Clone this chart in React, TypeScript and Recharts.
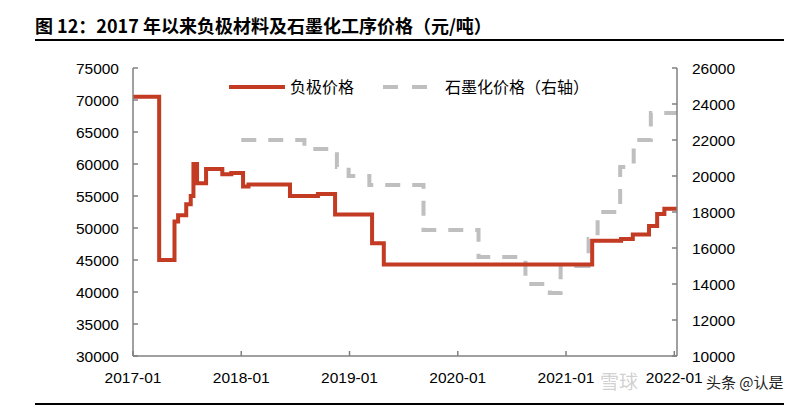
import React from "react";
import { ComposedChart, Line, XAxis, YAxis } from "recharts";

// months counted from 2017-01
const xTicks = [0, 12, 24, 36, 48, 60];
const xTickLabels = ["2017-01", "2018-01", "2019-01", "2020-01", "2021-01", "2022-01"];
const leftTicks = [30000, 35000, 40000, 45000, 50000, 55000, 60000, 65000, 70000, 75000];
const rightTicks = [10000, 12000, 14000, 16000, 18000, 20000, 22000, 24000, 26000];

// 负极价格 (left axis)
const anodeMonths = [0, 2.9, 4.6, 5.0, 5.9, 6.4, 6.7, 7.1, 8.1, 9.9, 10.9, 12.2, 12.8, 17.4, 20.5, 22.4, 26.5, 27.8, 50.9, 54.1, 55.4, 57.2, 58.1, 58.9, 60.3];
const anodePrices = [70500, 45000, 51000, 52000, 53700, 55000, 60000, 57000, 59200, 58400, 58600, 56500, 56800, 55000, 55300, 52100, 47600, 44300, 48000, 48300, 49000, 50300, 52200, 53000, 53000];

// 石墨化价格 (right axis)
const graphiteMonths = [12, 19.0, 22.6, 23.9, 26.2, 32.2, 38.3, 43.5, 46.2, 47.4, 50.5, 51.5, 54.0, 55.5, 57.4, 60.3];
const graphitePrices = [22000, 21500, 20500, 20000, 19500, 17000, 15500, 14000, 13500, 15000, 16500, 18000, 20500, 22000, 23500, 23500];

const anodeData = anodeMonths.map((m, i) => ({ m, anode: anodePrices[i] }));
const graphiteData = graphiteMonths.map((m, i) => ({ m, graphite: graphitePrices[i] }));

const RED = "#C23B22";
const GREY = "#BFBFBF";
const AXIS = "#808080";
const cjk = '"Noto Sans CJK SC", sans-serif';
const latin = '"Liberation Sans", Arial, sans-serif';

export default function App() {
  const tickStyle = { fill: "#000", fontSize: 15.5, fontFamily: latin };

  return (
    <div
      style={{
        position: "absolute",
        left: 0,
        top: 0,
        width: 800,
        height: 407,
        background: "#fff",
        overflow: "hidden",
      }}
    >
      <div
        style={{
          position: "absolute",
          left: 35,
          top: 14,
          fontSize: 18,
          lineHeight: "22px",
          fontWeight: "bold",
          fontFamily: cjk,
          color: "#000",
          whiteSpace: "nowrap",
        }}
      >
        图 12：2017 年以来负极材料及石墨化工序价格（元/吨）
      </div>
      <div style={{ position: "absolute", left: 35, top: 39, width: 749, height: 2, background: "#000" }} />
      <div style={{ position: "absolute", left: 35, top: 403, width: 749, height: 2, background: "#000" }} />

      <ComposedChart
        width={800}
        height={407}
        margin={{ top: 68, right: 63, bottom: 21, left: 73 }}
      >
        <XAxis
          dataKey="m"
          type="number"
          domain={[0, 60.3]}
          allowDataOverflow
          ticks={xTicks}
          interval={0}
          tickFormatter={(v: number) => xTickLabels[xTicks.indexOf(v)]}
          height={30}
          tickSize={-5}
          tickMargin={21}
          axisLine={{ stroke: AXIS, strokeWidth: 1.5 }}
          tickLine={{ stroke: AXIS, strokeWidth: 1.5 }}
          tick={tickStyle}
        />
        <YAxis
          yAxisId="left"
          domain={[30000, 75000]}
          ticks={leftTicks}
          interval={0}
          width={60}
          tickSize={-5}
          tickMargin={19}
          axisLine={{ stroke: AXIS, strokeWidth: 1.5 }}
          tickLine={{ stroke: AXIS, strokeWidth: 1.5 }}
          tick={tickStyle}
        />
        <YAxis
          yAxisId="right"
          orientation="right"
          domain={[10000, 26000]}
          ticks={rightTicks}
          interval={0}
          width={60}
          tickSize={-5}
          tickMargin={20}
          axisLine={{ stroke: AXIS, strokeWidth: 1.5 }}
          tickLine={{ stroke: AXIS, strokeWidth: 1.5 }}
          tick={{ ...tickStyle, textAnchor: "start" }}
        />
        <Line
          yAxisId="right"
          data={graphiteData}
          dataKey="graphite"
          type="stepAfter"
          stroke={GREY}
          strokeWidth={4}
          strokeDasharray="15 12"
          dot={false}
          isAnimationActive={false}
        />
        <Line
          yAxisId="left"
          data={anodeData}
          dataKey="anode"
          type="stepAfter"
          stroke={RED}
          strokeWidth={4}
          dot={false}
          isAnimationActive={false}
        />
      </ComposedChart>

      {/* legend */}
      <div style={{ position: "absolute", left: 229, top: 85, width: 56, height: 4, background: RED }} />
      <div
        style={{
          position: "absolute",
          left: 290,
          top: 76,
          fontSize: 16,
          lineHeight: "20px",
          fontFamily: cjk,
          color: "#000",
          whiteSpace: "nowrap",
        }}
      >
        负极价格
      </div>
      <div style={{ position: "absolute", left: 383, top: 85, width: 15, height: 4, background: GREY }} />
      <div style={{ position: "absolute", left: 412, top: 85, width: 15, height: 4, background: GREY }} />
      <div
        style={{
          position: "absolute",
          left: 445,
          top: 76,
          fontSize: 16,
          lineHeight: "20px",
          fontFamily: cjk,
          color: "#000",
          whiteSpace: "nowrap",
        }}
      >
        石墨化价格（右轴）
      </div>

      {/* watermark */}
      <div
        style={{
          position: "absolute",
          left: 600,
          top: 369,
          fontSize: 19,
          lineHeight: "24px",
          fontFamily: cjk,
          color: "rgba(150,150,150,0.45)",
          whiteSpace: "nowrap",
        }}
      >
        雪球
      </div>
      <div
        style={{
          position: "absolute",
          left: 706,
          top: 371,
          fontSize: 15,
          lineHeight: "22px",
          fontFamily: cjk,
          color: "#222",
          whiteSpace: "nowrap",
        }}
      >
        头条 @认是
      </div>
    </div>
  );
}
